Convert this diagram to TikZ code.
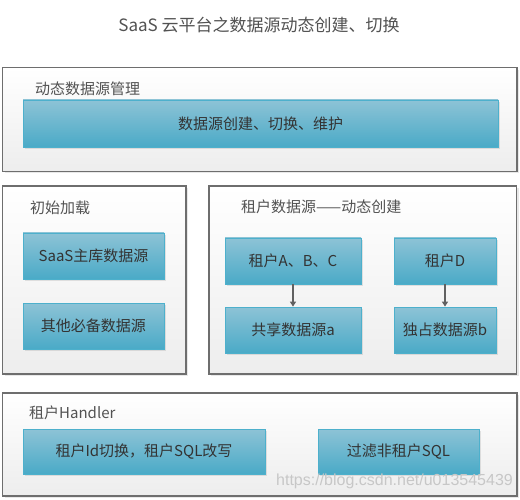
\documentclass[tikz,border=0pt]{standalone}
\usepackage{fontspec}
\setmainfont{Noto Sans CJK SC}
\newfontfamily\wmfont{Liberation Sans}
\usetikzlibrary{arrows.meta,shadows}
\definecolor{bluetop}{HTML}{8DC3D6}
\definecolor{bluebot}{HTML}{4AAAC7}
\definecolor{blueline}{HTML}{4DB0CC}
\definecolor{panelline}{HTML}{6E6E6E}
\definecolor{txt}{HTML}{333333}
\definecolor{arrowc}{HTML}{616161}
\begin{document}
\begin{tikzpicture}[x=1pt,y=-1pt,
  panel/.style={draw=panelline,line width=1.1pt,top color=white,bottom color=black!7,
    minimum width=#1,inner sep=0pt,
    drop shadow={opacity=0.18,shadow xshift=2pt,shadow yshift=-2pt}},
  bluebox/.style={draw=blueline,line width=0.8pt,top color=bluetop,bottom color=bluebot,
    text=txt,font=\fontsize{15}{18}\selectfont,inner sep=0pt,
    drop shadow={opacity=0.2,shadow xshift=2pt,shadow yshift=-2pt}},
  lbl/.style={anchor=west,text=txt!85,font=\fontsize{15}{18}\selectfont,inner sep=0pt},
  conn/.style={draw=arrowc,line width=1.2pt,-{Triangle[width=6pt,length=5pt]}}
]
\useasboundingbox (0,0) rectangle (520,500);
\fill[white] (0,0) rectangle (520,500);

\node[text=txt!85,font=\fontsize{17}{20}\selectfont] (title) at (259,25) {SaaS 云平台之数据源动态创建、切换};

% panels
\node[panel=514.5pt,minimum height=103.5pt] (p1) at (259.75,119.5) {};
\node[panel=183.5pt,minimum height=188pt] (p2) at (94.25,280) {};
\node[panel=307.5pt,minimum height=188pt] (p3) at (362.75,280) {};
\node[panel=514.5pt,minimum height=103pt] (p4) at (259.75,444.5) {};

% panel labels
\node[lbl] (l1) at (35,89) {动态数据源管理};
\node[lbl] (l2) at (30,208) {初始加载};
\node[lbl] (l3) at (241,207) {租户数据源——动态创建};
\node[lbl] (l4) at (29,413) {租户Handler};

% blue boxes
\node[bluebox,minimum width=475pt,minimum height=47pt] (b1) at (260.5,123.5) {数据源创建、切换、维护};
\node[bluebox,minimum width=141pt,minimum height=46pt] (b2) at (93.5,256) {SaaS主库数据源};
\node[bluebox,minimum width=141pt,minimum height=46pt] (b3) at (93.5,326) {其他必备数据源};
\node[bluebox,minimum width=136pt,minimum height=46pt] (b4) at (293,261) {租户A、B、C};
\node[bluebox,minimum width=136pt,minimum height=46pt] (b5) at (293,330) {共享数据源a};
\node[bluebox,minimum width=102pt,minimum height=46pt] (b6) at (445,261) {租户D};
\node[bluebox,minimum width=102pt,minimum height=46pt] (b7) at (445,330) {独占数据源b};
\node[bluebox,minimum width=242pt,minimum height=45pt] (b8) at (144,451.5) {租户Id切换，租户SQL改写};
\node[bluebox,minimum width=161pt,minimum height=45pt] (b9) at (398.5,451.5) {过滤非租户SQL};

% connectors
\draw[conn] (b4.south) -- (b5.north);
\draw[conn] (b6.south) -- (b7.north);

% watermark
\node[text=black!22,font=\wmfont\fontsize{16}{18}\selectfont,anchor=west,inner sep=0pt] (wm) at (276,481) {https://blog.csdn.net/u013545439};
\end{tikzpicture}
\end{document}
